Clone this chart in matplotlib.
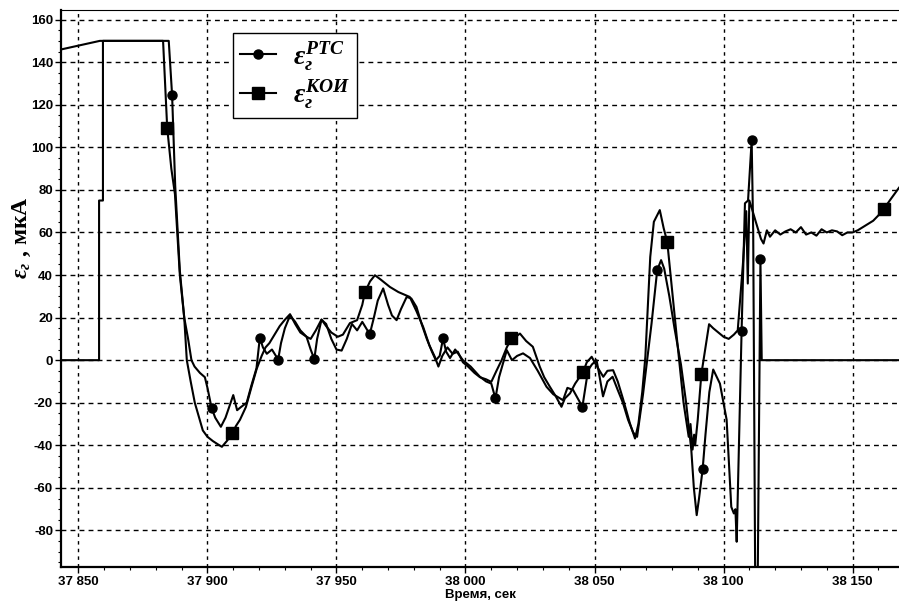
import numpy as np
import matplotlib
matplotlib.use('Agg')
import matplotlib.pyplot as plt
from matplotlib.lines import Line2D
from matplotlib.ticker import MultipleLocator, FuncFormatter

# Data: time, s and value, mkA
rts_t = [37843.4, 37858.0, 37858.0, 37859.5, 37859.5, 37885.0, 37886.3, 37887.5, 37889.3, 37891.0,
         37892.5, 37893.8, 37895.0, 37897.1, 37899.0, 37900.0, 37901.6, 37903.0, 37905.2, 37907.0,
         37909.0, 37910.0, 37911.5, 37913.0, 37915.2, 37917.0, 37919.0, 37920.3, 37921.5, 37923.0,
         37925.0, 37927.4, 37928.5, 37930.0, 37932.0, 37934.0, 37936.0, 37938.4, 37940.0, 37941.4,
         37942.5, 37944.2, 37946.0, 37948.0, 37950.0, 37952.0, 37954.0, 37956.0, 37958.0, 37960.0,
         37962.9, 37964.5, 37966.0, 37968.1, 37970.0, 37971.5, 37973.3, 37975.0, 37977.2, 37979.0,
         37981.0, 37983.0, 37985.0, 37987.0, 37988.5, 37990.0, 37991.3, 37992.5, 37994.0, 37996.0,
         37999.0, 38002.0, 38005.6, 38008.0, 38010.0, 38011.6, 38013.0, 38016.0, 38018.0, 38020.0,
         38022.3, 38025.0, 38028.0, 38031.4, 38034.0, 38037.8, 38039.5, 38041.7, 38043.5, 38045.3,
         38047.5, 38049.0, 38050.8, 38052.0, 38053.3, 38055.0, 38057.0, 38059.0, 38061.0, 38063.0,
         38065.0, 38066.5, 38068.8, 38072.1, 38074.3, 38075.8, 38077.0, 38079.0, 38081.0, 38083.5,
         38085.5, 38087.5, 38088.5, 38089.6, 38090.5, 38091.9, 38093.0, 38094.5, 38096.0, 38098.6,
         38101.2, 38103.0, 38104.0, 38104.6, 38105.1, 38107.0, 38108.3, 38109.5, 38110.9, 38111.5,
         38112.3, 38113.2, 38114.3, 38114.8, 38168.0]
rts_v = [0, 0, 75, 75, 150, 150, 124.5, 82, 42, 20,
         10, 0, -3, -6, -8, -13, -22.4, -27, -31.3, -27,
         -20, -16.4, -23.5, -22, -20, -12, -3.8, 10.6, 6, 3,
         5, 0.3, 8, 15, 21, 18, 14, 11, 5, 0.5,
         10, 19, 17, 10, 5, 4.5, 10, 17, 14, 18,
         12.2, 20, 28, 33.7, 26, 21, 18.8, 24, 29.7, 29,
         25, 17, 10, 4, 0, 2, 10.2, 4, 1, 5,
         0, -3, -7.8, -10, -11, -18, -8, 4.7, 0, 2,
         3.2, 1, -5, -12.5, -16, -18.8, -13, -14, -18, -21.9,
         -4.7, -2, 0, -8, -17, -10, -7.8, -14, -20, -28,
         -34, -36, -16, 17.2, 42.3, 47, 43, 30, 15, -2,
         -20, -42, -60, -72.8, -65, -51.3, -35, -15, -4.4, -11,
         -28, -68.9, -72, -70, -85.3, 13.8, 73.7, 75, 103.3, 60,
         -110, -110, 47.3, 0, 0]
rts_mark_t = [37886.3, 37901.6, 37920.3, 37927.4, 37941.4, 37962.9, 37991.3, 38011.6, 38045.3,
              38074.3, 38091.9, 38107.0, 38110.9, 38114.3]

koi_t = [37843.4, 37858.3, 37882.8, 37884.4, 37886.0, 37887.4, 37889.3, 37891.0, 37892.0, 37893.5,
         37895.1, 37897.0, 37898.2, 37900.0, 37902.1, 37904.0, 37905.6, 37907.5, 37909.7, 37911.0,
         37912.6, 37914.9, 37917.2, 37919.1, 37921.0, 37922.5, 37924.0, 37926.0, 37928.0, 37930.0,
         37932.0, 37934.0, 37936.0, 37938.4, 37940.0, 37942.0, 37944.2, 37946.0, 37948.0, 37950.5,
         37952.5, 37955.2, 37958.0, 37960.0, 37961.0, 37963.0, 37964.9, 37967.0, 37970.7, 37974.0,
         37978.4, 37981.0, 37983.6, 37986.0, 37988.1, 37989.5, 37991.0, 37993.0, 37995.0, 37997.0,
         37999.0, 38001.0, 38003.5, 38005.6, 38008.0, 38010.0, 38012.0, 38014.0, 38016.0, 38017.8,
         38019.5, 38021.1, 38023.5, 38026.1, 38028.8, 38030.5, 38032.7, 38035.0, 38037.2, 38038.5,
         38040.5, 38042.5, 38045.6, 38047.0, 38048.9, 38050.5, 38053.4, 38055.0, 38057.2, 38059.0,
         38061.0, 38063.7, 38065.7, 38067.0, 38068.5, 38069.7, 38071.6, 38073.0, 38075.3, 38076.8,
         38078.2, 38079.4, 38082.0, 38084.5, 38086.5, 38087.2, 38088.0, 38088.6, 38089.0, 38090.0,
         38091.4, 38094.4, 38096.0, 38098.0, 38100.0, 38102.0, 38104.0, 38105.5, 38107.5, 38108.8,
         38109.4, 38110.0, 38110.8, 38112.5, 38114.5, 38115.5, 38116.8, 38118.0, 38120.0, 38122.0,
         38124.0, 38126.0, 38128.0, 38130.0, 38132.0, 38134.0, 38136.0, 38138.0, 38140.0, 38142.0,
         38144.0, 38146.0, 38148.0, 38150.0, 38152.0, 38154.0, 38156.0, 38158.0, 38160.0, 38162.2,
         38165.0, 38168.0]
koi_v = [146, 150, 150, 109.2, 90, 78, 40, 20, 0, -10,
         -20, -28, -33, -36, -38, -39.5, -40.7, -38, -34.4, -31,
         -28, -22, -12, -4, 2, 6, 8, 12, 16, 19,
         21.6, 17, 13, 11, 10, 14, 19.1, 16, 13, 11,
         12, 17.4, 18.8, 26, 31.8, 37, 39.9, 38, 34.4, 32,
         29.7, 23, 15.6, 7, 1.6, -3, 2, 6, 3, 4,
         -1, -3, -6, -8, -9, -10.2, -5, 0, 6, 10.2,
         11, 12.5, 9, 6.3, -3.1, -8, -12.5, -17, -21.9, -18,
         -15.6, -11, -5.5, -1, 1.6, -2, -7.8, -5, -4.7, -10,
         -18, -29.6, -36.8, -30, -15, 1.5, 48.5, 65, 70.5, 62,
         55.5, 40.8, 9.4, -20, -36, -30, -42, -35, -40, -28,
         -6.6, 16.9, 15, 13, 11, 10, 12, 14, 45, 70,
         36, 75, 72, 65, 57, 54.8, 61, 58, 61, 59,
         60.5, 61.5, 60, 62.5, 59, 60, 58.5, 61.5, 60, 61,
         60.5, 58.7, 60, 60, 61, 62.5, 64, 65.5, 68, 71.2,
         76, 81]
koi_mark_t = [37884.4, 37909.7, 37961.0, 38017.8, 38045.6, 38078.2, 38091.4, 38162.2]

rts_label = r'$\varepsilon_{г}^{РТС}$'
koi_label = r'$\varepsilon_{г}^{КОИ}$'

plt.rcParams['axes.unicode_minus'] = False
plt.rcParams['mathtext.fontset'] = 'custom'
plt.rcParams['mathtext.it'] = 'Liberation Serif:italic:bold'
plt.rcParams['mathtext.rm'] = 'Liberation Serif:bold'
plt.rcParams['mathtext.bf'] = 'Liberation Serif:bold'

fig = plt.figure(figsize=(8.99, 6.04), dpi=100)
ax = fig.add_axes([61.4 / 899, 36.7 / 604, 837.6 / 899, 557.3 / 604])

rts_t = np.array(rts_t)
rts_v = np.array(rts_v)
koi_t = np.array(koi_t)
koi_v = np.array(koi_v)
rts_m = np.isin(rts_t, rts_mark_t)
koi_m = np.isin(koi_t, koi_mark_t)

ax.plot(rts_t, rts_v, color='k', lw=1.5, zorder=3)
ax.plot(koi_t, koi_v, color='k', lw=1.5, zorder=3)
ax.plot(rts_t[rts_m], rts_v[rts_m], 'o', color='k', ms=6.5, zorder=4)
ax.plot(koi_t[koi_m], koi_v[koi_m], 's', color='k', ms=9, zorder=4)

ax.set_xlim(37843.4, 38168)
ax.set_ylim(-97.3, 164.5)

ax.xaxis.set_major_locator(MultipleLocator(50))
ax.xaxis.set_minor_locator(MultipleLocator(10))
ax.yaxis.set_major_locator(MultipleLocator(20))
ax.yaxis.set_minor_locator(MultipleLocator(5))
ax.xaxis.set_major_formatter(FuncFormatter(lambda x, p: '%d %03d' % (int(round(x)) // 1000, int(round(x)) % 1000)))
ax.yaxis.set_major_formatter(FuncFormatter(lambda y, p: '%d' % round(y)))

tick_font = ['Liberation Sans', 'DejaVu Sans']
for lab in ax.get_xticklabels() + ax.get_yticklabels():
    lab.set_family(tick_font)
    lab.set_fontweight('bold')
    lab.set_fontsize(9.5)
ax.tick_params(which='major', direction='out', length=4, width=1, colors='k', pad=2)
ax.tick_params(which='minor', direction='out', length=2, width=0.8)

ax.xaxis.grid(True, which='major', color='k', linestyle=(0, (2.5, 3)), lw=1)
ax.yaxis.grid(True, which='major', color='k', linestyle=(0, (3.5, 3)), lw=1)
ax.set_axisbelow(True)

for s in ['left', 'bottom']:
    ax.spines[s].set_linewidth(1.6)
ax.spines['top'].set_linewidth(0.8)
ax.spines['right'].set_visible(False)

ax.set_xlabel('Время, сек', family=tick_font, fontweight='bold', fontsize=9.5, labelpad=1)
fig.text(22 / 899, 1 - 238 / 604, r'$\varepsilon_{г}$ , мкА', rotation=90, ha='center', va='center',
         family='Liberation Serif', fontweight='bold', fontsize=17)

handles = [Line2D([], [], color='k', lw=1.5, marker='o', ms=6.5),
           Line2D([], [], color='k', lw=1.5, marker='s', ms=9)]
leg = ax.legend(handles, [rts_label, koi_label], loc='upper left', bbox_to_anchor=(0.205, 0.959),
                fontsize=20, frameon=True, fancybox=False, edgecolor='k', framealpha=1,
                handlelength=1.3, handletextpad=0.6, labelspacing=0.2, borderpad=0.25, borderaxespad=0)
leg.get_frame().set_linewidth(1.0)

fig.savefig('out.png', dpi=100)
